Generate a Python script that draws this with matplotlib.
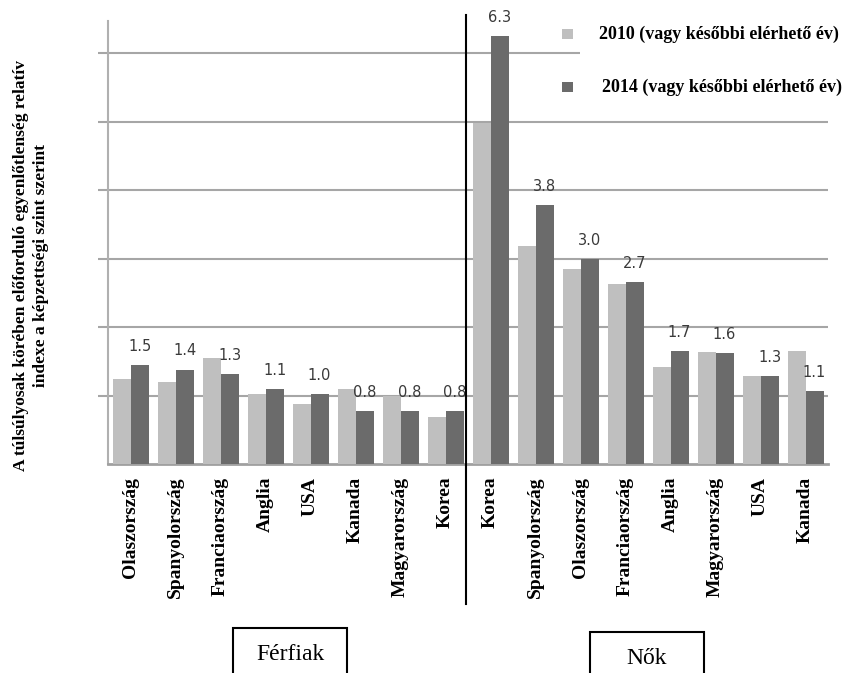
import matplotlib
matplotlib.use("Agg")
import matplotlib.pyplot as plt
import matplotlib.transforms as mtransforms
from matplotlib.patches import Rectangle
import numpy as np

# adatok
categories = ["Olaszország", "Spanyolország", "Franciaország", "Anglia", "USA",
              "Kanada", "Magyarország", "Korea",
              "Korea", "Spanyolország", "Olaszország", "Franciaország", "Anglia",
              "Magyarország", "USA", "Kanada"]
vals_2010 = [1.24, 1.20, 1.55, 1.03, 0.88, 1.10, 1.00, 0.68,
             4.98, 3.18, 2.85, 2.63, 1.42, 1.64, 1.28, 1.65]
vals_2014 = [1.45, 1.38, 1.32, 1.09, 1.02, 0.78, 0.78, 0.77,
             6.25, 3.78, 2.99, 2.66, 1.65, 1.62, 1.28, 1.07]
labels_2014 = ["1.5", "1.4", "1.3", "1.1", "1.0", "0.8", "0.8", "0.8",
               "6.3", "3.8", "3.0", "2.7", "1.7", "1.6", "1.3", "1.1"]
legend_labels = ["2010 (vagy későbbi elérhető év)", "2014 (vagy későbbi elérhető év)"]
group_labels = ["Férfiak", "Nők"]
ylabel = ("A túlsúlyosak körében előforduló egyenlőtlenség relatív\n"
          "indexe a képzettségi szint szerint")

light = "#bfbfbf"
dark = "#6b6b6b"
grid_c = "#a6a6a6"
serif = ["Liberation Serif", "DejaVu Serif"]

fig = plt.figure(figsize=(8.51, 6.73), dpi=100)
ax = fig.add_axes([0.127, 0.3105, 0.846, 0.6582])

x = np.arange(len(categories))
w = 0.4
ax.bar(x - w / 2, vals_2010, w, color=light, zorder=3)
bars = ax.bar(x + w / 2, vals_2014, w, color=dark, zorder=3)
for b, lab in zip(bars, labels_2014):
    ax.annotate(lab, (b.get_x() + b.get_width() / 2, b.get_height()),
                xytext=(0, 8), textcoords="offset points", ha="center", va="bottom",
                fontsize=10.5, color="#3a3a3a", zorder=4)

ax.set_xlim(-0.5, len(categories) - 0.5)
ax.set_ylim(0, 6.47)
ax.set_yticks(np.arange(1, 7))
ax.set_yticklabels([])
ax.yaxis.grid(True, color=grid_c, lw=1.5, zorder=0)
ax.tick_params(axis="y", length=7, width=1.5, color=grid_c, direction="out")
ax.set_xticks(x)
ax.set_xticklabels(categories, rotation=90, fontsize=14, fontweight="bold",
                   family=serif, va="top")
ax.tick_params(axis="x", length=0, pad=9)
for s in ["top", "right"]:
    ax.spines[s].set_visible(False)
ax.spines["left"].set_color("#b0b0b0")
ax.spines["left"].set_linewidth(1.5)
ax.spines["bottom"].set_color("#a0a0a0")
ax.spines["bottom"].set_linewidth(2)

# elválasztó vonal a két csoport között
trans = mtransforms.blended_transform_factory(ax.transData, fig.transFigure)
ax.plot([7.45, 7.45], [1 - 604 / 673, 1 - 15 / 673], color="black", lw=1.5,
        transform=trans, clip_on=False, zorder=5)

# tengelyfelirat
fig.text(0.036, 0.605, ylabel, rotation=90, ha="center", va="center",
         multialignment="center", fontsize=12.5, fontweight="bold",
         family=serif, linespacing=1.35)

# jelmagyarázat fehér háttérrel
fig.patches.append(Rectangle((580 / 851, 1 - 110 / 673), 271 / 851, 100 / 673,
                             transform=fig.transFigure, facecolor="white",
                             edgecolor="none", zorder=10))
for i, (col, lab) in enumerate(zip([light, dark], legend_labels)):
    yc = 1 - (34 + 53 * i) / 673
    fig.patches.append(Rectangle((562 / 851, yc - 5 / 673), 11 / 851, 10 / 673,
                                 transform=fig.transFigure, facecolor=col,
                                 edgecolor="none", zorder=11))
    fig.text((599 + 3 * i) / 851, yc, lab, ha="left", va="center", fontsize=13,
             fontweight="bold", family=serif, zorder=12)

# csoportfeliratok dobozban
for lab, x0, x1, top in zip(group_labels, [233, 590], [347, 704], [628, 632]):
    fig.patches.append(Rectangle((x0 / 851, -0.05), (x1 - x0) / 851,
                                 1 - top / 673 + 0.05,
                                 transform=fig.transFigure, facecolor="white",
                                 edgecolor="black", lw=1.5))
    fig.text((x0 + x1) / 2 / 851, 1 - (top + 26) / 673, lab, ha="center",
             va="center", fontsize=17, family=serif)

fig.savefig("out.png", dpi=100)
